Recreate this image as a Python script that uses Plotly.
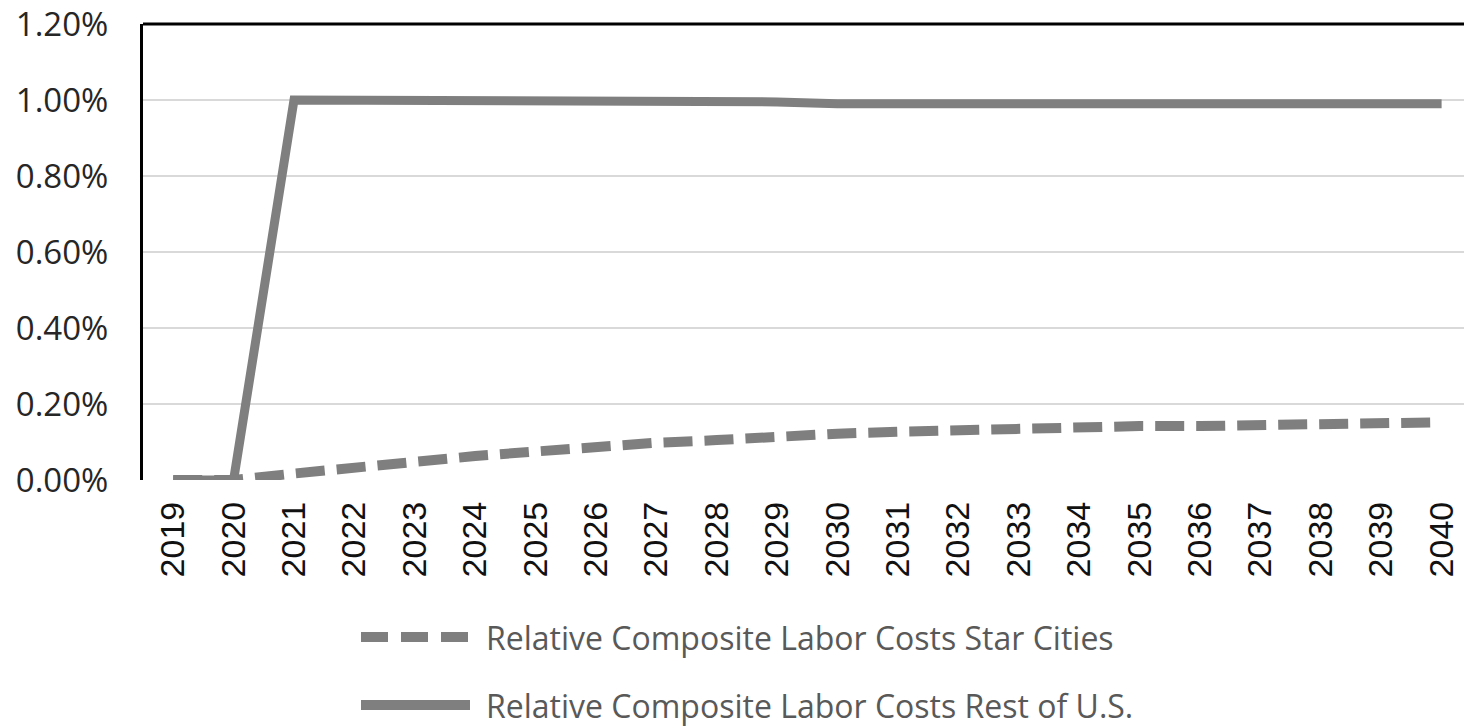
import plotly.graph_objects as go

# Years on the horizontal axis
years = list(range(2019, 2041))

# Relative composite labor costs, in percent
star_cities = [0.0, 0.0, 0.017, 0.033, 0.050, 0.063, 0.075, 0.088, 0.098, 0.105, 0.115,
               0.122, 0.127, 0.132, 0.137, 0.140, 0.142, 0.142, 0.145, 0.147, 0.151, 0.152]
rest_of_us = [0.0, 0.0, 1.00, 1.00, 1.00, 1.00, 0.995, 0.995, 0.995, 0.995, 0.995,
              0.99, 0.99, 0.99, 0.99, 0.99, 0.99, 0.99, 0.99, 0.99, 0.99, 0.99]

y_ticks = [0.0, 0.2, 0.4, 0.6, 0.8, 1.0, 1.2]
y_tick_labels = ["0.00%", "0.20%", "0.40%", "0.60%", "0.80%", "1.00%", "1.20%"]

series_names = ["Relative Composite Labor Costs Star Cities",
                "Relative Composite Labor Costs Rest of U.S."]

W, H = 1464, 727
LINE = "#7f7f7f"
DASH = "29px,12px"

fig = go.Figure()
fig.add_trace(go.Scatter(x=years, y=star_cities, mode="lines", name=series_names[0],
                         line=dict(color=LINE, width=10, dash=DASH)))
fig.add_trace(go.Scatter(x=years, y=rest_of_us, mode="lines", name=series_names[1],
                         line=dict(color=LINE, width=9)))

# plot area: x 143..1464, y 24..480 (pixels from top)
x0_px, y_top_px, y_bot_px = 143, 24, 480

fig.update_layout(
    width=W, height=H,
    margin=dict(l=0, r=0, t=0, b=0),
    paper_bgcolor="white", plot_bgcolor="white",
    showlegend=False,
    xaxis=dict(
        domain=[x0_px / W, 1],
        range=[2018.5, 2018.5 + (W - x0_px) / 60.4],
        tickmode="array", tickvals=years, ticktext=[str(y) for y in years],
        tickangle=-90, showgrid=False, zeroline=False, showline=False,
        ticks="", ticklabelstandoff=14,
        tickfont=dict(family="Liberation Sans, Arial", size=34, color="#111111"),
        automargin=False,
    ),
    yaxis=dict(
        domain=[(H - y_bot_px) / H, (H - y_top_px) / H],
        range=[0, 1.2], tickmode="array", tickvals=y_ticks, ticktext=y_tick_labels,
        showgrid=True, gridcolor="#d9d9d9", gridwidth=2,
        zeroline=False, showline=True, linecolor="black", linewidth=3,
        ticks="", ticklabelstandoff=25,
        tickfont=dict(family="Open Sans", size=33, color="#262626"),
        automargin=False,
    ),
)

# black border along the top of the plot area
fig.add_shape(type="line", xref="x domain", yref="y domain", x0=0, x1=1, y0=1, y1=1,
              line=dict(color="black", width=3))

# legend drawn below the chart
legend_rows = [(637, "27px,13px"), (705, "solid")]
for (ypx, dash), name in zip(legend_rows, series_names):
    fig.add_shape(type="line", xref="paper", yref="paper",
                  x0=361 / W, x1=470 / W, y0=1 - ypx / H, y1=1 - ypx / H,
                  line=dict(color=LINE, width=10, dash=dash))
    fig.add_annotation(xref="paper", yref="paper", x=484 / W, y=1 - ypx / H,
                       xanchor="left", yanchor="middle", showarrow=False, text=name,
                       font=dict(family="Open Sans", size=32, color="#595959"))

fig.write_html("out.html")
